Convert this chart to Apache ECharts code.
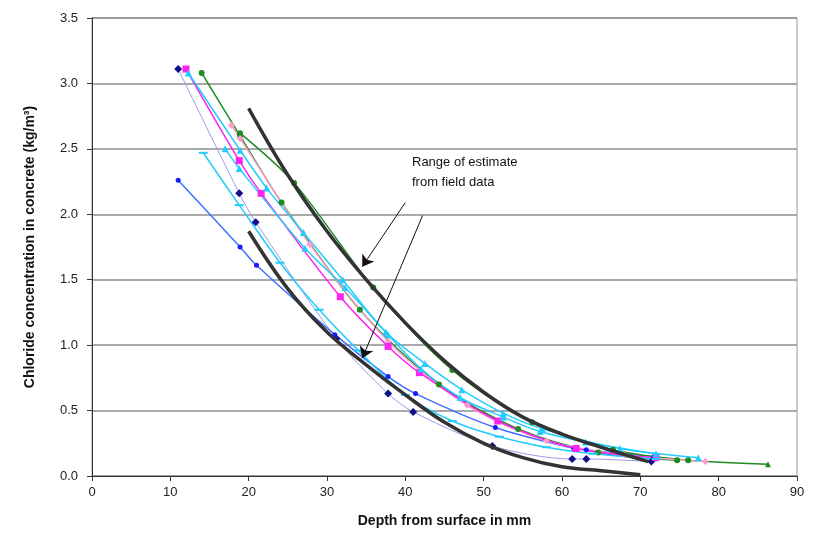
<!DOCTYPE html>
<html>
<head>
<meta charset="utf-8">
<script src="https://cdn.jsdelivr.net/npm/echarts@6/dist/echarts.min.js"></script>
<style>
  html, body { margin: 0; padding: 0; background: #fff; }
  #chart { width: 816px; height: 545px; }
</style>
</head>
<body>
<div id="chart"></div>
<script>
// [depth mm, chloride kg/m3]
const navySeries = [[11,3.11],[18.8,2.16],[20.9,1.94],[31.2,1.05],[37.8,0.63],[41,0.49],[51.1,0.23],[61.3,0.13],[63.1,0.13],[71.4,0.11]];
const blueSeries = [[11,2.26],[18.9,1.75],[21,1.61],[31,1.08],[37.8,0.76],[41.3,0.63],[51.5,0.37],[61.5,0.21],[63.1,0.2],[71.7,0.145]];
const magentaSeries = [[12,3.11],[18.8,2.41],[21.6,2.16],[31.7,1.37],[37.8,0.99],[41.8,0.79],[51.8,0.42],[61.8,0.21],[72,0.14]];
const pinkSeries = [[17.8,2.68],[18.9,2.58],[27.8,1.77],[37.8,1.03],[47.9,0.54],[58,0.27],[68,0.16],[78.3,0.11]];
const greenA = [[18.9,2.62],[25.8,2.24],[35.9,1.44],[46,0.81],[56.2,0.41],[66.5,0.2],[76.1,0.12],[86.3,0.09]];
const greenB = [[14,3.08],[18.9,2.6],[24.2,2.09],[34.2,1.27],[44.3,0.7],[54.4,0.36],[64.6,0.18],[74.7,0.12]];
const cyanA = [[12.3,3.08],[18.9,2.49],[22.3,2.2],[27,1.86],[32,1.5],[37.5,1.1],[42.5,0.86],[47.2,0.66],[52.5,0.48],[57.5,0.36],[67.4,0.21],[77.4,0.14]];
const cyanB = [[17,2.5],[18.8,2.35],[27.2,1.74],[32.3,1.44],[37.8,1.08],[42,0.82],[47,0.6],[52.5,0.45],[57.2,0.34],[63,0.26],[72,0.17]];
const cyanDash = [[14.2,2.47],[18.8,2.07],[24,1.63],[29,1.27],[34,0.96],[40,0.62],[46,0.42],[52,0.3],[58,0.22],[64,0.17],[72,0.13]];
const upperEstimate = [[20,2.81],[25,2.3],[30,1.87],[35,1.5],[40,1.17],[45,0.88],[50,0.64],[55,0.45],[60,0.32],[65,0.22],[71,0.11]];
const lowerEstimate = [[20,1.87],[25,1.43],[30,1.1],[35,0.85],[40,0.62],[45,0.41],[50,0.25],[55,0.14],[60,0.07],[65,0.04],[70,0.01]];

const xTicks = [0, 10, 20, 30, 40, 50, 60, 70, 80, 90];
const yTicks = [0, 0.5, 1, 1.5, 2, 2.5, 3, 3.5];

function measured(name, data, lineColor, lineWidth, symbol, symbolSize, markerColor) {
  return {
    name: name,
    type: 'line',
    data: data,
    smooth: 0.3,
    symbol: symbol,
    symbolSize: symbolSize,
    lineStyle: { color: lineColor, width: lineWidth },
    itemStyle: { color: markerColor || lineColor, borderWidth: 0 },
    z: 3
  };
}

function estimate(name, data) {
  return {
    name: name,
    type: 'line',
    data: data,
    smooth: 0.4,
    showSymbol: false,
    lineStyle: { color: '#333333', width: 3.5 },
    z: 4
  };
}

let chart = echarts.init(document.getElementById('chart'));

const greenASeries = measured('greenA', greenA, '#1f8a1f', 1.5, 'circle', 6, '#1f8a1f');
greenASeries.symbol = function (v, p) { return p.dataIndex === greenA.length - 1 ? 'triangle' : 'circle'; };

const cyanDashSeries = measured('cyanDash', cyanDash, '#22ccff', 1.5, 'rect', [9, 2]);

chart.setOption({
  animation: false,
  grid: {
    left: 92, right: 19, top: 18, bottom: 69,
    show: true, borderColor: '#9a9a9a', borderWidth: 1
  },
  xAxis: {
    type: 'value',
    min: 0, max: 90, interval: 10,
    name: 'Depth from surface in mm',
    nameLocation: 'middle',
    nameGap: 38,
    nameTextStyle: { fontFamily: 'Liberation Sans', fontSize: 14, fontWeight: 'bold', color: '#111' },
    axisLine: { lineStyle: { color: '#333', width: 1 } },
    axisTick: { show: true, length: 5, lineStyle: { color: '#333' } },
    axisLabel: {
      fontFamily: 'Liberation Sans', fontSize: 13, color: '#222', margin: 10,
      formatter: v => xTicks.includes(v) ? String(v) : ''
    },
    splitLine: { show: false }
  },
  yAxis: {
    type: 'value',
    min: 0, max: 3.5, interval: 0.5,
    name: 'Chloride concentration in concrete (kg/m³)',
    nameLocation: 'middle',
    nameGap: 55,
    nameTextStyle: { fontFamily: 'Liberation Sans', fontSize: 14, fontWeight: 'bold', color: '#111' },
    axisLine: { show: true, lineStyle: { color: '#333', width: 1 } },
    axisTick: { show: true, length: 5, lineStyle: { color: '#333' } },
    axisLabel: {
      fontFamily: 'Liberation Sans', fontSize: 13, color: '#222', margin: 14,
      formatter: v => yTicks.includes(v) ? v.toFixed(1) : ''
    },
    splitLine: { show: true, lineStyle: { color: '#8c8c8c', width: 1.5 } }
  },
  graphic: [
    {
      type: 'text', left: 412, top: 152,
      style: {
        text: 'Range of estimate\nfrom field data',
        font: '13px "Liberation Sans"', fill: '#111', lineHeight: 20
      }
    }
  ],
  series: [
    measured('navy', navySeries, '#9a9ae6', 1, 'diamond', 8, '#10108a'),
    measured('blue', blueSeries, '#3f6fff', 1.5, 'circle', 5, '#1a1aff'),
    greenASeries,
    measured('greenB', greenB, '#1f8a1f', 1.5, 'circle', 6, '#1f8a1f'),
    measured('pink', pinkSeries, '#ff9fd0', 1.5, 'diamond', 7, '#ff99cc'),
    measured('magenta', magentaSeries, '#ff22ee', 1.5, 'rect', 7, '#ff22ee'),
    measured('cyanA', cyanA, '#22ccff', 1.5, 'triangle', 7),
    measured('cyanB', cyanB, '#22ccff', 1.5, 'triangle', 7),
    cyanDashSeries,
    estimate('upper', upperEstimate),
    Object.assign(estimate('lower', lowerEstimate), {
      markLine: {
        silent: true,
        symbol: ['none', 'arrow'],
        symbolSize: 11,
        label: { show: false },
        lineStyle: { color: '#111', width: 1, type: 'solid' },
        itemStyle: { color: '#111' },
        emphasis: { disabled: true },
        data: [
          [{ coord: [40, 2.09] }, { coord: [34.5, 1.6] }],
          [{ coord: [42.2, 1.99] }, { coord: [34.5, 0.9] }]
        ]
      }
    })
  ]
});
</script>
</body>
</html>
